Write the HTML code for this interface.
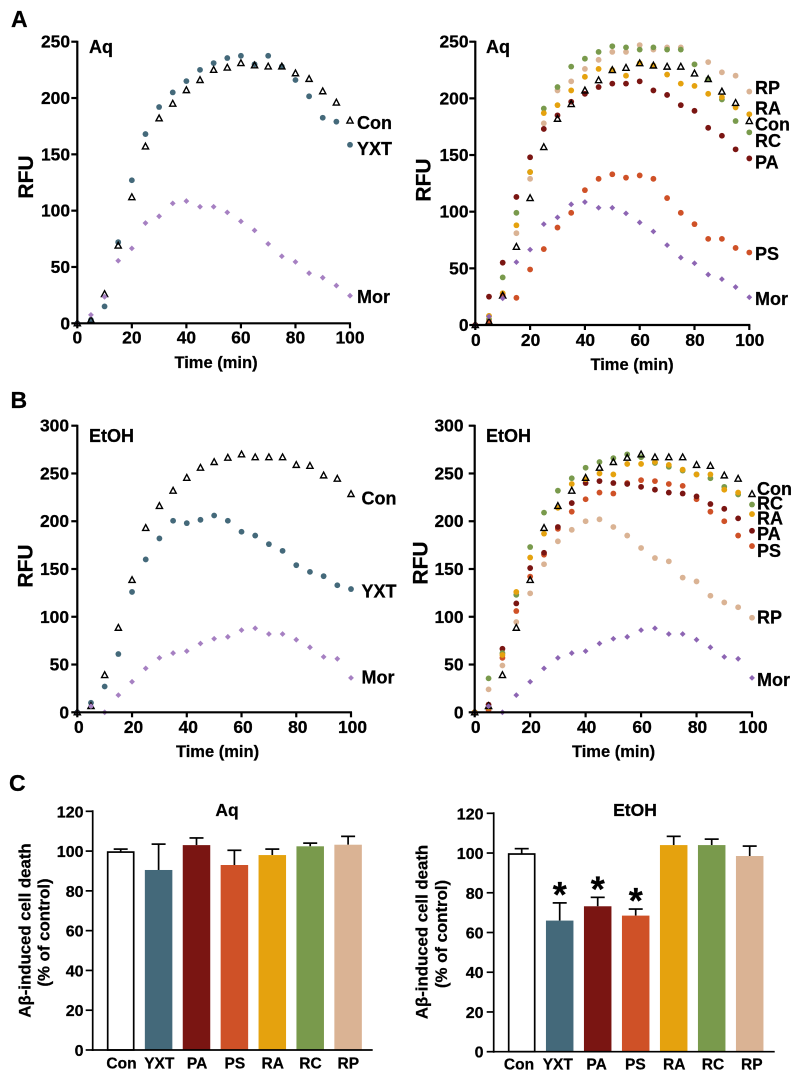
<!DOCTYPE html>
<html lang="en">
<head>
<meta charset="utf-8">
<title>RFU time courses and cell death bars</title>
<style>
html,body{margin:0;padding:0;background:#fff;}
svg{display:block;filter:blur(0.3px);}
text{font-family:"Liberation Sans",Arial,sans-serif;font-weight:700;fill:#000;stroke:#000;stroke-width:0.25px;}
</style>
</head>
<body>
<svg id="fig" xmlns="http://www.w3.org/2000/svg" width="794" height="1074" viewBox="0 0 794 1074">
<rect x="0" y="0" width="794" height="1074" fill="#fff"/>
<text x="11" y="27" font-size="23">A</text>
<text x="10.5" y="408" font-size="23">B</text>
<text x="9" y="791" font-size="23">C</text>

<text x="89" y="53" font-size="18">Aq</text>
<text x="486" y="53" font-size="18">Aq</text>
<text x="89" y="442" font-size="18">EtOH</text>
<text x="486" y="442" font-size="18">EtOH</text>

<text transform="translate(33,177) rotate(-90)" text-anchor="middle" font-size="21">RFU</text>
<text transform="translate(430.5,180) rotate(-90)" text-anchor="middle" font-size="21">RFU</text>
<text transform="translate(32.5,566) rotate(-90)" text-anchor="middle" font-size="21">RFU</text>
<text transform="translate(427.5,563) rotate(-90)" text-anchor="middle" font-size="21">RFU</text>

<text x="216" y="368" text-anchor="middle" font-size="16.5">Time (min)</text>
<text x="632" y="370" text-anchor="middle" font-size="16.5">Time (min)</text>
<text x="217.5" y="757" text-anchor="middle" font-size="16.5">Time (min)</text>
<text x="613.5" y="757" text-anchor="middle" font-size="16.5">Time (min)</text>

<g font-size="18">
<text x="357" y="129">Con</text>
<text x="357" y="155">YXT</text>
<text x="357" y="303">Mor</text>
</g>
<g font-size="18">
<text x="755" y="94">RP</text>
<text x="755" y="114.5">RA</text>
<text x="755" y="130.5">Con</text>
<text x="755" y="147">RC</text>
<text x="755" y="168.5">PA</text>
<text x="755" y="260">PS</text>
<text x="755" y="305">Mor</text>
</g>
<g font-size="18">
<text x="361.5" y="504.5">Con</text>
<text x="361.5" y="597.5">YXT</text>
<text x="361.5" y="683.5">Mor</text>
</g>
<g font-size="18">
<text x="757" y="495">Con</text>
<text x="757" y="509.5">RC</text>
<text x="757" y="524.5">RA</text>
<text x="757" y="540">PA</text>
<text x="757" y="557">PS</text>
<text x="757" y="623.5">RP</text>
<text x="757" y="686">Mor</text>
</g>

<text x="227" y="816" text-anchor="middle" font-size="17.5">Aq</text>
<text x="635" y="816" text-anchor="middle" font-size="17.5">EtOH</text>
<text transform="translate(30.5,930.5) rotate(-90)" text-anchor="middle" font-size="16.8">Aβ-induced cell death</text>
<text transform="translate(49.5,932.5) rotate(-90)" text-anchor="middle" font-size="16.8">(% of control)</text>
<text transform="translate(427.5,932) rotate(-90)" text-anchor="middle" font-size="16.8">Aβ-induced cell death</text>
<text transform="translate(447,934) rotate(-90)" text-anchor="middle" font-size="16.8">(% of control)</text>
</svg>
<script>
// ---- Chart data ----
var timeMin = [0,5,10,15,20,25,30,35,40,45,50,55,60,65,70,75,80,85,90,95,100];
var timeTicks = [0,20,40,60,80,100];
var aqTicks = [0,50,100,150,200,250];
var etohTicks = [0,50,100,150,200,250,300];
var barTicks = [0,20,40,60,80,100,120];
var barCategories = ['Con','YXT','PA','PS','RA','RC','RP'];

var aqCon = [0,3,26,69,112,157,182,195,207,216,225,227,231,229,228,228,222,217,206,196,180];
var aqYxt = [0,3,15,72,127,168,192,205,215,225,231,235.5,237.5,230,237.5,228,216,201.5,182.5,179,158.5];
var aqMor = [0,7.5,23.5,55.5,66.5,89,95,106.5,108.5,103.5,103.5,98.5,90.5,82.5,70.5,59.5,54.5,44.5,40.5,33.5,24.5];
var aqRp = [0,8,28,81,129,178,207,215,226,234,241,241,247,243,245,245,230,232,223,220,206];
var aqRa = [0,8,28,88,135,187,194,207,219,226,225,220,231,229,221,213,211,204,201,192,186];
var aqRc = [0,5,42,99,135,191,210,228,235,241,246,245,243,245,243,243,230,217,199,180,170];
var aqPa = [0,25,55,113,148,173,185,197,204,210,213,213,215,207,203,194,189,174,167,155,147];
var aqPs = [0,3,26,24,49,67,86,99,119,129,133,130,132,129,112,99,89,76,76,68,64];

var etohCon = [0,6.5,39,88.5,138.5,193,216,232,245.5,256,262,266.5,270,267,267,267,259,258,248,244.5,228.5];
var etohYxt = [0,10,27,61,126,160,182,200.5,198,201.5,206,200.5,189,185,176,169,154,147,142.5,133,129];
var etohMor = [0,6.5,0,18,32,46,57,62,64,72,77,79,86,88,82,82,76,68,58,56,36];
var etohRc = [0,35.5,62,123,173,209,232,245,256,262,266,270,267,261,257,253,249,245,236,228,217.5];
var etohRa = [0,5,60,126,162,187,214,239,244,250,249,260,260,262,259,254,249,249,233,230,207.5];
var etohPa = [0,8,66.5,114,151,167,194,219,240,242,240,239,236,233,230,229,226,218,213,203,190];
var etohPs = [0,2.5,57,106,142,165,192,210,223,230,229,240,243,242,239,237,223,210,200,185,174];
var etohRp = [0,24,49,94.5,124.5,155,179,191,200,202,194,185,172,161.5,158,141,137,122,115,110,99];

var aqBarMeans = [99.5,90.5,103,93,98,102.4,103.2];
var aqBarTops = [101,103.5,106.6,100.4,101,104,107.4];
var etohBarMeans = [99.5,66,73.2,68.5,104,104,98.5];
var etohBarTops = [102.2,74.9,77.7,71.8,108.4,107,103.5];
var etohSignificant = [false,true,true,true,false,false,false];

// ---- Styles ----
var BLUE='#44697a', DRED='#7a1512', ORED='#cf5127', AMB='#e5a20e', GRN='#799a4c', TAN='#dab394';
var barColors = ['#ffffff',BLUE,DRED,ORED,AMB,GRN,TAN];

var panels = [
 {id:'a-left', x0:77.3,x1:350,y0:323.3,yTop:41.7,yMax:250,ticks:aqTicks,labelRight:70,xLabelY:343.5,xLabelDx:0,
  series:[['yxt',aqYxt,BLUE,'c'],['con',aqCon,'#000','t'],['mor',aqMor,'#a680c2','d']]},
 {id:'a-right', x0:475.3,x1:749.3,y0:325,yTop:41.7,yMax:250,ticks:aqTicks,labelRight:468.5,xLabelY:346,xLabelDx:0.5,
  series:[['rp',aqRp,TAN,'c'],['rc',aqRc,GRN,'c'],['ra',aqRa,AMB,'c'],['ps',aqPs,ORED,'c'],['pa',aqPa,DRED,'c'],['con',aqCon,'#000','t'],['mor',aqMor,'#8d65b3','d']]},
 {id:'b-left', x0:77.3,x1:351,y0:712.3,yTop:425.7,yMax:300,ticks:etohTicks,labelRight:69,xLabelY:733,xLabelDx:1.5,
  series:[['yxt',etohYxt,BLUE,'c'],['con',etohCon,'#000','t'],['mor',etohMor,'#a680c2','d']]},
 {id:'b-right', x0:474.7,x1:752,y0:712.3,yTop:425.7,yMax:300,ticks:etohTicks,labelRight:463.5,xLabelY:733,xLabelDx:1,
  series:[['rp',etohRp,TAN,'c'],['ps',etohPs,ORED,'c'],['pa',etohPa,DRED,'c'],['rc',etohRc,GRN,'c'],['ra',etohRa,AMB,'c'],['con',etohCon,'#000','t'],['mor',etohMor,'#8d65b3','d']]}
];

var barPanels = [
 {id:'c-left', axisX:92.7,axisEnd:372.7,y0:1050,yTop:811.3,first:120.7,step:37.9,barW:27.5,labelRight:83.5,labelY:1068.5,labelFirst:121.5,labelStep:37.8,
  means:aqBarMeans,tops:aqBarTops,stars:null},
 {id:'c-right', axisX:493.7,axisEnd:774.7,y0:1051.7,yTop:813.3,first:521.7,step:38,barW:27.5,labelRight:483.5,labelY:1069.5,labelFirst:519,labelStep:38.8,
  means:etohBarMeans,tops:etohBarTops,stars:etohSignificant}
];

var NS='http://www.w3.org/2000/svg';
var fig=document.getElementById('fig');
function make(tag,parent,attrs){
  var el=document.createElementNS(NS,tag);
  for(var k in attrs){el.setAttribute(k,attrs[k]);}
  parent.appendChild(el);
  return el;
}
function linear(d0,d1,r0,r1){return function(v){return r0+(v-d0)/(d1-d0)*(r1-r0);};}

panels.forEach(function(p){
  var sx=linear(0,100,p.x0,p.x1), sy=linear(0,p.yMax,p.y0,p.yTop);
  var g=make('g',fig,{});
  
  

  p.series.forEach(function(s){
    var sg=make('g',g,{});
    
    
    timeMin.forEach(function(t,i){
      var x=sx(t), y=sy(s[1][i]), el;
      if(s[3]==='c'){
        el=make('circle',sg,{cx:x,cy:y,r:2.9,fill:s[2]});
      }else if(s[3]==='t'){
        var pts=[[x,y-3.3],[x+3.1,y+2.5],[x-3.1,y+2.5]].map(function(q){return q.join(',');}).join(' ');
        el=make('polygon',sg,{points:pts,fill:'none',stroke:'#000','stroke-width':1.4,'stroke-linejoin':'miter'});
      }else{
        var d=2.9;
        var pd=[[x,y-d],[x+d,y],[x,y+d],[x-d,y]].map(function(q){return q.join(',');}).join(' ');
        el=make('polygon',sg,{points:pd,fill:s[2]});
      }
      
      
    });
  });

  var axes=make('g',g,{stroke:'#000','stroke-width':2.2,fill:'none'});
  
  
  var yLine=make('line',axes,{x1:p.x0,x2:p.x0,y1:p.yTop-1,y2:p.y0+1});
  
  
  var xLine=make('line',axes,{x1:p.x0-1,x2:p.x1+1,y1:p.y0,y2:p.y0});
  
  

  p.ticks.forEach(function(v){
    var tk=make('line',axes,{x1:p.x0-6,x2:p.x0,y1:sy(v),y2:sy(v)});
    
    
    var lb=make('text',g,{x:p.labelRight,y:sy(v)+6,'text-anchor':'end','font-size':17.4});
    lb.textContent=v;
    
    
  });
  timeTicks.forEach(function(v){
    var tk=make('line',axes,{x1:sx(v),x2:sx(v),y1:p.y0,y2:p.y0+5});
    
    
    var lb=make('text',g,{x:sx(v)+p.xLabelDx,y:p.xLabelY,'text-anchor':'middle','font-size':17.4});
    lb.textContent=v;
    
    
  });
});

barPanels.forEach(function(p){
  var sy=linear(0,120,p.y0,p.yTop);
  var g=make('g',fig,{});
  
  

  barCategories.forEach(function(c,i){
    var cx=p.first+i*p.step, top=sy(p.means[i]), errY=sy(p.tops[i]);
    var stem=make('line',g,{x1:cx,x2:cx,y1:top,y2:errY,stroke:'#000','stroke-width':1.7});
    
    
    var cap=make('line',g,{x1:cx-7,x2:cx+7,y1:errY,y2:errY,stroke:'#000','stroke-width':1.7});
    
    
    var isCon=(i===0);
    var bar=make('rect',g,{x:isCon?cx-13:cx-p.barW/2,y:top,width:isCon?26:p.barW,height:p.y0-top,fill:barColors[i]});
    if(isCon){bar.setAttribute('stroke','#000');bar.setAttribute('stroke-width','1.7');}
    
    
    var lb=make('text',g,{x:p.labelFirst+i*p.labelStep,y:p.labelY,'text-anchor':'middle','font-size':15.5});
    lb.textContent=c;
    
    
    if(p.stars&&p.stars[i]){
      var st=make('text',g,{x:cx,y:errY+4,'text-anchor':'middle','font-size':36});
      st.textContent='*';
      
      
    }
  });

  var axes=make('g',g,{stroke:'#000','stroke-width':1.7,fill:'none'});
  
  
  var yLine=make('line',axes,{x1:p.axisX,x2:p.axisX,y1:p.yTop-1,y2:p.y0+1});
  
  
  var xLine=make('line',axes,{x1:p.axisX-1,x2:p.axisEnd,y1:p.y0,y2:p.y0});
  
  
  barTicks.forEach(function(v){
    var tk=make('line',axes,{x1:p.axisX-7,x2:p.axisX,y1:sy(v),y2:sy(v)});
    
    
    var lb=make('text',g,{x:p.labelRight,y:sy(v)+6,'text-anchor':'end','font-size':16});
    lb.textContent=v;
    
    
  });
});
</script>
</body>
</html>
